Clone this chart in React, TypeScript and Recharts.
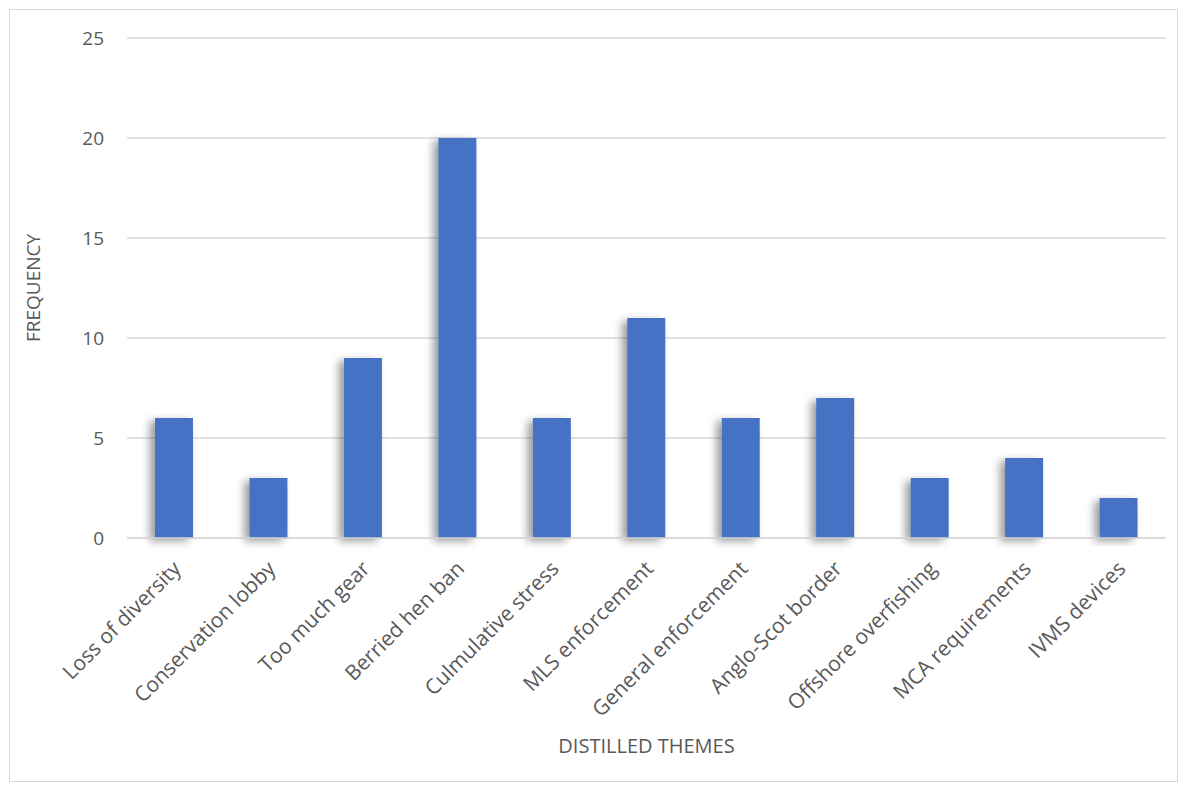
import { BarChart, Bar, XAxis, YAxis, CartesianGrid } from "recharts";

const themes = [
  "Loss of diversity",
  "Conservation lobby",
  "Too much gear",
  "Berried hen ban",
  "Culmulative stress",
  "MLS enforcement",
  "General enforcement",
  "Anglo-Scot border",
  "Offshore overfishing",
  "MCA requirements",
  "IVMS devices",
];
const frequency = [6, 3, 9, 20, 6, 11, 6, 7, 3, 4, 2];
const yTicks = [0, 5, 10, 15, 20, 25];

const data = themes.map((theme, i) => ({ theme, frequency: frequency[i] }));

const FONT = "'Open Sans', sans-serif";
const TEXT = "#595959";

function AngledTick(props: any) {
  const { x, y, payload } = props;
  const ax = x + 8;
  const ay = y + 24;
  return (
    <text
      x={ax}
      y={ay}
      transform={`rotate(-45, ${ax}, ${ay})`}
      textAnchor="end"
      fill={TEXT}
      fontSize={21}
      fontFamily={FONT}
    >
      {payload.value}
    </text>
  );
}

// plain rect with a soft drop shadow, like Office column charts
function ShadowBar(props: any) {
  const { x, y, width, height, fill } = props;
  return (
    <rect
      x={x}
      y={y}
      width={width}
      height={height}
      fill={fill}
      filter="url(#barShadow)"
    />
  );
}

export default function App() {
  return (
    <div
      style={{
        position: "absolute",
        left: 0,
        top: 0,
        width: 1183,
        height: 787,
        background: "#fff",
      }}
    >
      <div
        style={{
          position: "absolute",
          left: 9,
          top: 9,
          width: 1167,
          height: 771,
          border: "1px solid #d9d9d9",
        }}
      />
      <div style={{ position: "absolute", left: 0, top: 0 }}>
        <BarChart
          width={1183}
          height={787}
          data={data}
          margin={{ top: 38, right: 17, left: 0, bottom: 0 }}
        >
          <defs>
            <filter id="barShadow" x="-60%" y="-10%" width="220%" height="130%">
              <feDropShadow dx={-5} dy={3} stdDeviation={4} floodColor="#000" floodOpacity={0.4} />
            </filter>
          </defs>
          <CartesianGrid vertical={false} stroke="#d9d9d9" strokeWidth={1.3} />
          <XAxis
            dataKey="theme"
            interval={0}
            tickLine={false}
            axisLine={{ stroke: "#d9d9d9", strokeWidth: 1.3 }}
            tick={<AngledTick />}
            height={249}
            label={{
              value: "DISTILLED THEMES",
              position: "insideBottom",
              offset: 34,
              fill: TEXT,
              fontSize: 20,
              fontFamily: FONT,
            }}
          />
          <YAxis
            domain={[0, 25]}
            ticks={yTicks}
            width={127}
            tickLine={false}
            axisLine={false}
            tickSize={0}
            tickMargin={23}
            tick={{ fill: TEXT, fontSize: 19, fontFamily: FONT }}
            label={{
              value: "FREQUENCY",
              angle: -90,
              position: "insideLeft",
              offset: 33,
              fill: TEXT,
              fontSize: 19,
              fontFamily: FONT,
              style: { textAnchor: "middle" },
            }}
          />
          <Bar
            dataKey="frequency"
            fill="#4472c4"
            barSize={38}
            shape={<ShadowBar />}
            isAnimationActive={false}
          />
        </BarChart>
      </div>
    </div>
  );
}
